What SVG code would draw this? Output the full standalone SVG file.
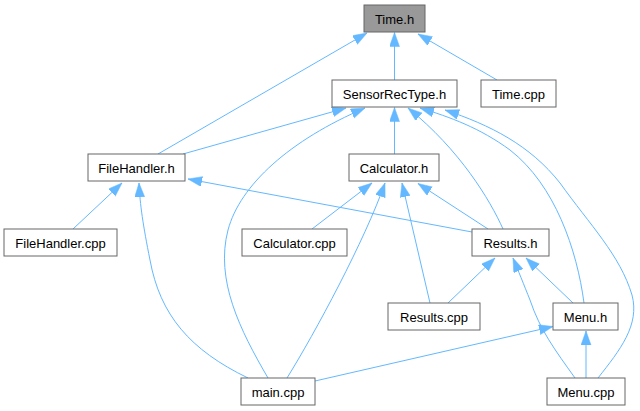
<svg xmlns="http://www.w3.org/2000/svg" width="640" height="411" viewBox="0 0 640 411">
<style>
.node rect{fill:#ffffff;stroke:#666666;stroke-width:1}
.node text{font-family:"Liberation Sans",Arial,sans-serif;font-size:13px;fill:#000000;text-anchor:middle}
.edge path{fill:none;stroke:#63b8ff;stroke-width:1;marker-end:url(#arr)}
</style>
<defs>
<marker id="arr" markerUnits="userSpaceOnUse" markerWidth="15" markerHeight="11" refX="14" refY="5" orient="auto">
<path d="M0,0 L14,5 L0,10 z" fill="#63b8ff" stroke="#63b8ff" stroke-width="0.5"/>
</marker>
</defs>
<rect width="640" height="411" fill="#ffffff"/>
<g id="connectors" class="edge">
<path d="M158,154 L367,33"/>
<path d="M394.5,80 L394.5,32.5"/>
<path d="M497,80 L418,34"/>
<path d="M183,154 L346,108"/>
<path d="M394.5,154 L394.5,107.5"/>
<path d="M268,378 C240,330 215,280 228,230 C240,185 290,140 365,108"/>
<path d="M503,229 C490,200 460,150 408,108"/>
<path d="M584,303 C577,250 555,185 510,150 C480,128 450,117 420,108"/>
<path d="M598,378 C620,350 640,325 632,295 C620,255 590,225 560,183 C530,145 490,125 445,110"/>
<path d="M73,229 L122,183"/>
<path d="M248,378 C190,350 160,315 150,260 C143,225 140,205 139,183"/>
<path d="M472,232 L188,179"/>
<path d="M312,229 L372,183"/>
<path d="M287,378 C315,333 365,240 385,183"/>
<path d="M430,303 L402,183"/>
<path d="M488,229 L418,183.5"/>
<path d="M448,303 L495,258"/>
<path d="M573,303 L526,258"/>
<path d="M575,378 C555,350 540,330 530,300 C524,285 518,270 513,258"/>
<path d="M315,381 L553,326.5"/>
<path d="M586,378 L586,331"/>
</g>
<g id="node-time-h" class="node"><rect x="364" y="5" width="61" height="27" style="fill:#999999"/><text x="394.5" y="23.5">Time.h</text></g>
<g id="node-sensorrectype-h" class="node"><rect x="332" y="80" width="125" height="27"/><text x="394.5" y="98.5">SensorRecType.h</text></g>
<g id="node-time-cpp" class="node"><rect x="481" y="80" width="75" height="27"/><text x="518.5" y="98.5">Time.cpp</text></g>
<g id="node-filehandler-h" class="node"><rect x="88" y="154" width="97" height="27"/><text x="136.5" y="172.5">FileHandler.h</text></g>
<g id="node-calculator-h" class="node"><rect x="349" y="154" width="90" height="27"/><text x="394" y="172.5">Calculator.h</text></g>
<g id="node-filehandler-cpp" class="node"><rect x="4" y="229" width="113" height="27"/><text x="60.5" y="247.5">FileHandler.cpp</text></g>
<g id="node-calculator-cpp" class="node"><rect x="242" y="229" width="105" height="27"/><text x="294.5" y="247.5">Calculator.cpp</text></g>
<g id="node-results-h" class="node"><rect x="472" y="229" width="77" height="27"/><text x="510.5" y="247.5">Results.h</text></g>
<g id="node-results-cpp" class="node"><rect x="388" y="303" width="92" height="27"/><text x="434" y="321.5">Results.cpp</text></g>
<g id="node-menu-h" class="node"><rect x="553" y="303" width="65" height="27"/><text x="585.5" y="321.5">Menu.h</text></g>
<g id="node-main-cpp" class="node"><rect x="241" y="378" width="74" height="27"/><text x="278" y="396.5">main.cpp</text></g>
<g id="node-menu-cpp" class="node"><rect x="547" y="378" width="78" height="27"/><text x="586" y="396.5">Menu.cpp</text></g>
</svg>
